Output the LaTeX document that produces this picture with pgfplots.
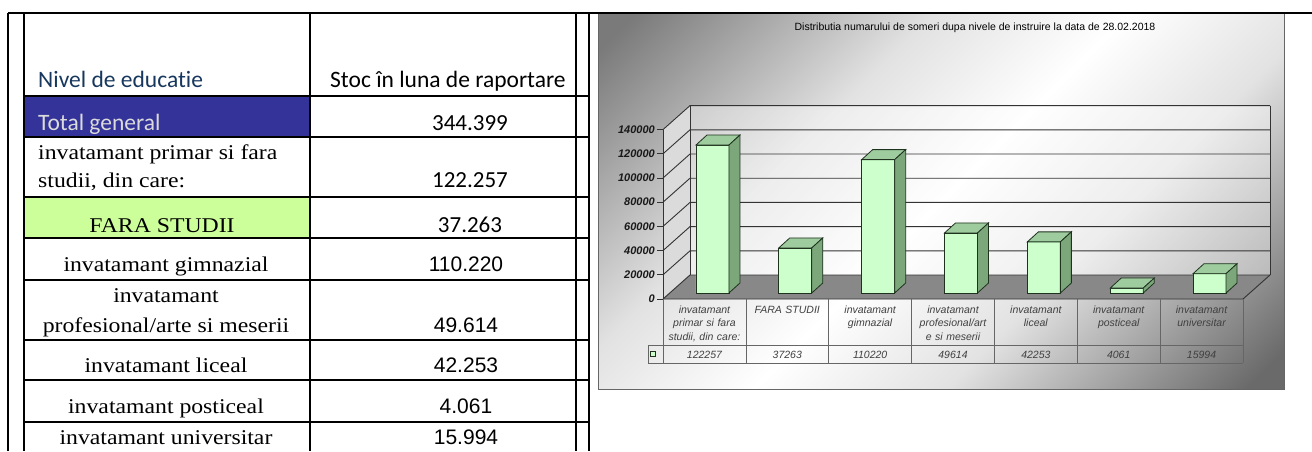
\documentclass[border=0pt]{standalone}
\usepackage{pgfplots}
\pgfplotsset{compat=1.18}
\usepackage{fontspec}
\newfontfamily\carlito[Ligatures=NoCommon]{Carlito}
\newfontfamily\arial{Liberation Sans}
\newfontfamily\pal[FakeStretch=1.13]{Liberation Serif}
\definecolor{hdrblue}{HTML}{17375E}
\definecolor{totblue}{HTML}{333399}
\definecolor{faragreen}{HTML}{CCFF99}
\definecolor{barfront}{HTML}{CCFFCC}
\definecolor{bartop}{HTML}{9FCC9F}
\definecolor{barside}{HTML}{7BA77B}
\definecolor{baredge}{HTML}{1E321E}
\definecolor{floorc}{HTML}{888888}
\definecolor{bgdark}{HTML}{7A7A7A}
\definecolor{bgdarkb}{HTML}{6A6A6A}
\definecolor{bglight}{HTML}{E2E2E2}
\pgfdeclareverticalshading{chartbg}{100bp}{color(0bp)=(bgdarkb); color(17bp)=(bgdarkb); color(37bp)=(bglight); color(50bp)=(white); color(63bp)=(bglight); color(83bp)=(bgdark); color(100bp)=(bgdark)}
% 3D top and side faces of a bar, drawn at the data point (front top centre)
\pgfdeclareplotmark{bar3d}{%
  \pgfmathsetmacro\hh{\pgfplotspointmetatransformed*0.1694}%
  \pgfsetlinewidth{0.8pt}%
  \pgfsetstrokecolor{baredge}%
  \pgfsetfillcolor{bartop}%
  \pgfpathmoveto{\pgfpoint{-16.5pt}{0pt}}%
  \pgfpathlineto{\pgfpoint{16.5pt}{0pt}}%
  \pgfpathlineto{\pgfpoint{27.5pt}{10pt}}%
  \pgfpathlineto{\pgfpoint{-5.5pt}{10pt}}%
  \pgfpathclose
  \pgfusepath{fill,stroke}%
  \pgfsetfillcolor{barside}%
  \pgfpathmoveto{\pgfpoint{16.5pt}{0pt}}%
  \pgfpathlineto{\pgfpoint{27.5pt}{10pt}}%
  \pgfpathlineto{\pgfpoint{27.5pt}{10pt-\hh pt}}%
  \pgfpathlineto{\pgfpoint{16.5pt}{-\hh pt}}%
  \pgfpathclose
  \pgfusepath{fill,stroke}%
}
\begin{document}
\begin{tikzpicture}
\useasboundingbox (0,0) rectangle (1312pt,451pt);
\begin{scope}[x=1pt,y=-1pt,yshift=451pt]
  % ---------------- left table ----------------
  \fill[totblue] (24,96) rectangle (310,137);
  \fill[faragreen] (24,197) rectangle (310,238);
  \foreach \yy in {96,137,197,238,280,340,380,422}
    \draw[line width=1.4pt] (24,\yy) -- (589,\yy);
  \foreach \xx in {24,310,576,589}
    \draw[line width=1.4pt] (\xx,13) -- (\xx,451);
  \draw[line width=1.6pt] (8,13) -- (8,451);
  \begin{scope}[every node/.style={inner sep=0pt}]
    \node[anchor=base west, text=hdrblue, font=\carlito\fontsize{23.5}{28}\selectfont] at (38,88) {Nivel de educatie};
    \node[anchor=base west, font=\carlito\fontsize{23.5}{28}\selectfont] at (330,88) {Stoc în luna de raportare};
    \node[anchor=base west, text=white!86!black, font=\carlito\fontsize{23.5}{28}\selectfont] at (38,130) {Total general};
    \node[anchor=base, font=\carlito\fontsize{23}{28}\selectfont] at (470,130) {344.399};
    \node[anchor=base west, font=\pal\fontsize{21}{26}\selectfont] at (38,159) {invatamant primar si fara};
    \node[anchor=base west, font=\pal\fontsize{21}{26}\selectfont] at (38,187) {studii, din care:};
    \node[anchor=base, font=\carlito\fontsize{23}{28}\selectfont] at (470,187) {122.257};
    \node[anchor=base, font=\pal\fontsize{21}{26}\selectfont] at (162,232) {FARA STUDII};
    \node[anchor=base, font=\carlito\fontsize{23}{28}\selectfont] at (470,232) {37.263};
    \node[anchor=base, font=\pal\fontsize{21}{26}\selectfont] at (166,271) {invatamant gimnazial};
    \node[anchor=base, font=\arial\fontsize{21}{26}\selectfont] at (466,271) {110.220};
    \node[anchor=base, font=\pal\fontsize{21}{26}\selectfont] at (166,302) {invatamant};
    \node[anchor=base, font=\pal\fontsize{21}{26}\selectfont] at (166,332) {profesional/arte si meserii};
    \node[anchor=base, font=\arial\fontsize{21}{26}\selectfont] at (466,332) {49.614};
    \node[anchor=base, font=\pal\fontsize{21}{26}\selectfont] at (166,372) {invatamant liceal};
    \node[anchor=base, font=\arial\fontsize{21}{26}\selectfont] at (466,372) {42.253};
    \node[anchor=base, font=\pal\fontsize{21}{26}\selectfont] at (166,413) {invatamant posticeal};
    \node[anchor=base, font=\arial\fontsize{21}{26}\selectfont] at (466,413) {4.061};
    \node[anchor=base, font=\pal\fontsize{21}{26}\selectfont] at (166,444) {invatamant universitar};
    \node[anchor=base, font=\arial\fontsize{21}{26}\selectfont] at (466,444) {15.994};
  \end{scope}
  % ---------------- chart frame ----------------
  \shade[shading=chartbg, shading angle=45] (598,13) rectangle (1284,389);
  \draw[black!60, line width=0.8pt] (598,13) rectangle (1284,389);
  \draw[line width=2pt] (8,13) -- (1312,13);
  \node[font=\arial\fontsize{10.5}{12}\selectfont, inner sep=0pt] at (975,28) {Distributia numarului de someri dupa nivele de instruire la data de 28.02.2018};
  % walls and floor
  \fill[white, opacity=0.4] (690,105.6) rectangle (1270,275);
  \fill[white!86!black] (663,299) -- (690,275) -- (690,105.6) -- (663,129.6) -- cycle;
  \fill[floorc] (663,299) -- (690,275) -- (1270,275) -- (1243,299) -- cycle;
  \foreach \k in {0,...,7} {
    \draw[black!80, line width=0.9pt] (663,{299-24.2*\k}) -- (690,{275-24.2*\k}) -- (1270,{275-24.2*\k});
    \draw[black!80, line width=0.8pt] (657,{299-24.2*\k}) -- (663,{299-24.2*\k});
  }
  \draw[black!80, line width=0.9pt] (663,299) -- (663,129.6);
  \draw[black!80, line width=0.9pt] (690,275) -- (690,105.6);
  \draw[black!80, line width=0.9pt] (1270,275) -- (1270,105.6);
  \draw[black!80, line width=0.9pt] (663,299) -- (1243,299) -- (1270,275);
  % data table grid under the chart
  \draw[black!60, line width=0.7pt] (648,345) -- (1243,345);
  \draw[black!60, line width=0.7pt] (648,363) -- (1243,363);
  \draw[black!60, line width=0.7pt] (648,345) -- (648,363);
  \foreach \k in {0,...,7}
    \draw[black!60, line width=0.7pt] ({663+82.857*\k},299) -- ({663+82.857*\k},363);
\end{scope}
\begin{axis}[
  at={(671pt,158pt)}, anchor=south west,
  scale only axis, width=580pt, height=169.4pt,
  xmin=-0.5, xmax=6.5, ymin=0, ymax=140000,
  clip=false,
  axis line style={draw=none},
  major tick length=0pt, tick style={draw=none},
  xtick={0,1,2,3,4,5,6},
  xticklabels={{invatamant\\primar si fara\\studii, din care:},{FARA STUDII},{invatamant\\gimnazial},{invatamant\\profesional/art\\e si meserii},{invatamant\\liceal},{invatamant\\posticeal},{invatamant\\universitar}},
  xticklabel style={anchor=north, inner sep=0pt, xshift=-8pt, yshift=-12.5pt, text width=80pt, align=center, text=black!75, font=\arial\itshape\fontsize{10.5}{13.5}\selectfont},
  extra x ticks={0,1,2,3,4,5,6},
  extra x tick labels={122257,37263,110220,49614,42253,4061,15994},
  extra x tick style={xticklabel style={anchor=base, yshift=-52.5pt}},
  ytick={0,20000,40000,60000,80000,100000,120000,140000},
  scaled y ticks=false,
  yticklabel={\pgfmathprintnumber[fixed,precision=0,1000 sep={},assume math mode=true]{\tick}},
  yticklabel style={anchor=east, inner sep=0pt, xshift=-16pt, yshift=-6pt, text=black!90, font=\arial\bfseries\itshape\fontsize{11}{12}\selectfont},
  point meta min=0, point meta max=140000,
  legend style={at={(axis description cs:-0.031,-0.360)}, anchor=center, draw=none, fill=none, inner sep=0pt, outer sep=0pt, nodes={inner sep=0pt, outer sep=0pt}},
]
\addplot[ybar, bar width=33pt, bar shift=0pt, fill=barfront, draw=baredge, line width=0.8pt,
  legend image code/.code={\draw[draw=baredge, fill=barfront, line width=0.8pt] (-2.5pt,-2.5pt) rectangle (2.5pt,2.5pt);}]
  coordinates {(0,122257) (1,37263) (2,110220) (3,49614) (4,42253) (5,4061) (6,15994)};
\addlegendentry{}
\addplot[scatter, only marks, mark=bar3d, point meta=y, forget plot]
  coordinates {(0,122257) (1,37263) (2,110220) (3,49614) (4,42253) (5,4061) (6,15994)};
\end{axis}
\end{tikzpicture}
\end{document}
